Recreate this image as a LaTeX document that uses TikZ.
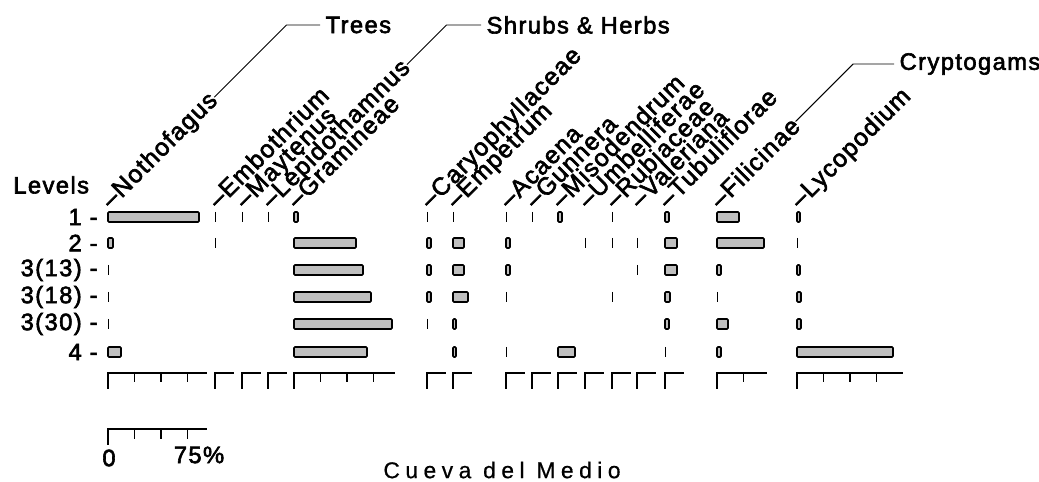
\documentclass[tikz,border=0pt]{standalone}
\usepackage{fontspec}
\setmainfont{Liberation Sans}[LetterSpace=6,FakeBold=2.5]
\newfontfamily\taxonfont{Liberation Sans}[LetterSpace=5,FakeBold=2.5]
\newfontfamily\titlefont{Liberation Sans}[LetterSpace=24,FakeBold=0.6]

\tikzset{
  bar/.style={draw=black,line width=0.95pt,fill=black!25,rounded corners=0.6pt},
  trace/.style={line width=1.1pt},
  taxon/.style={rotate=45,anchor=base west,inner sep=0pt,font=\taxonfont\fontsize{14}{16}\selectfont},
  group/.style={anchor=west,inner sep=3pt},
  axis/.style={line width=0.95pt},
  linker/.style={line width=0.55pt}
}

\begin{document}
\begin{tikzpicture}[x=0.02cm,y=-0.02cm,font=\fontsize{13.5}{16}\selectfont]

\useasboundingbox (0,0) rectangle (1039,482);

% taxa
\foreach \name/\cx/\txt in {noth/108/Nothofagus, embo/215/Embothrium, mayt/242/Maytenus,
    lepi/268/Lepidothamnus, gram/294/Gramineae, cary/427/Caryophyllaceae, empe/453/Empetrum,
    acae/506/Acaena, gunn/532/Gunnera, miso/558/Misodendrum, umbe/585/Umbelliferae,
    rubi/612/Rubiaceae, vale/637/Valeriana, tubu/665/Tubuliflorae, fili/717/Filicinae,
    lyco/797/Lycopodium}
  \node[taxon] (\name) at (\cx+3,209.5) {–\txt};

% groups
\node[group] (trees) at (320,25) {Trees};
\node[group] (shrubs) at (481,25) {Shrubs \& Herbs};
\node[group] (crypto) at (894,64) {Cryptogams};

\coordinate (notharm) at ([shift={(10,-10)}]noth.east);
\coordinate (lepiarm) at ([shift={(10,-10)}]lepi.east);
\coordinate (filiarm) at ([shift={(10,-10)}]fili.east);
\coordinate (treesbend) at (intersection of noth.east--notharm and trees.west--trees.east);
\coordinate (shrubsbend) at (intersection of lepi.east--lepiarm and shrubs.west--shrubs.east);
\coordinate (cryptobend) at (intersection of fili.east--filiarm and crypto.west--crypto.east);

\draw[linker] (noth.east) -- (treesbend) -- (trees.west);
\draw[linker] (lepi.east) -- (shrubsbend) -- (shrubs.west);
\draw[linker] (fili.east) -- (cryptobend) -- (crypto.west);

% levels
\node[anchor=west,inner sep=0pt] (levels) at (13,185) {Levels};
\foreach \lab/\ry/\nm in {1/217/ra, 2/243/rb, 3(13)/270/rc, 3(18)/297/rd, 3(30)/324/re, 4/352/rf}
  \node[anchor=east,inner sep=0pt] (\nm) at (98,\ry) {\lab\ -};

% percentages
\foreach \cx/\ry/\w in {108/217/91, 294/217/4, 558/217/4, 665/217/4, 717/217/22, 797/217/3,
    108/243/5, 294/243/62, 427/243/4, 453/243/11, 506/243/4, 665/243/12, 717/243/47,
    294/270/69, 427/270/4, 453/270/11, 506/270/4, 665/270/12, 717/270/4, 797/270/3,
    294/297/77, 427/297/4, 453/297/15, 665/297/5, 797/297/4,
    294/324/98, 453/324/3, 665/324/4, 717/324/11, 797/324/4,
    108/352/13, 294/352/73, 453/352/3, 558/352/17, 717/352/4, 797/352/96}
  \draw[bar] (\cx,\ry-5) rectangle ++(\w,10);

% traces
\foreach \cx/\ry in {215/217, 242/217, 268/217, 427/217, 453/217, 506/217, 532/217, 612/217,
    215/243, 585/243, 612/243, 637/243, 797/243,
    108/270, 637/270,
    108/297, 506/297, 612/297, 717/297,
    108/324, 427/324,
    506/352, 665/352}
  \draw[trace] (\cx+0.5,\ry-5) -- ++(0,10);

% axes
\foreach \cx in {215,242,268,427,453,506,532,558,585,612,637,665}
  \draw[axis] (\cx,389) -- (\cx,373) -- ++(19,0);
\foreach \cx/\len/\nt in {108/99/3, 294/101/3, 717/50/1, 797/106/3} {
  \draw[axis] (\cx,389) -- (\cx,373) -- ++(\len,0);
  \foreach \k in {1,...,\nt}
    \draw[axis] (\cx+26.5*\k,373) -- ++(0,9);
}

% scale
\draw[axis] (108,445) -- (108,429) -- (207,429);
\foreach \k in {1,2,3}
  \draw[axis] (108+26.5*\k,429) -- ++(0,10);
\node (zero) at (109,458) {0};
\node (top) at (199,455) {75\%};

\node[font=\titlefont\fontsize{13}{15}\selectfont] (site) at (502,470) {Cueva del Medio};

\end{tikzpicture}
\end{document}
